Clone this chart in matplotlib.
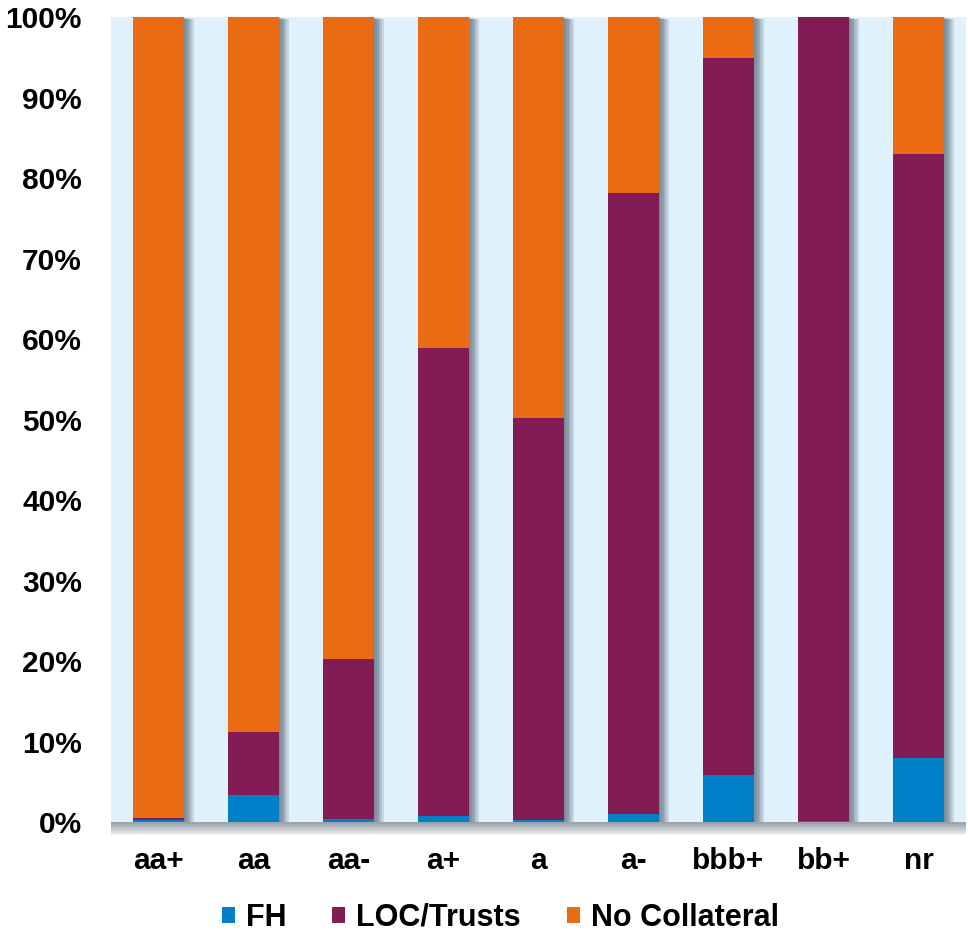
import matplotlib.pyplot as plt
import matplotlib.patheffects as pe
import numpy as np

plt.rcParams["font.family"] = ["Liberation Sans", "DejaVu Sans"]
plt.rcParams["font.weight"] = "bold"

ratings = ["aa+", "aa", "aa-", "a+", "a", "a-", "bbb+", "bb+", "nr"]
fh = np.array([0.2, 3.3, 0.4, 0.7, 0.2, 1.0, 5.9, 0.1, 7.9])
loc_trusts = np.array([0.3, 7.9, 19.8, 58.2, 50.0, 77.1, 89.0, 99.9, 75.1])
no_collateral = 100 - fh - loc_trusts

colors = {"FH": "#0080C6", "LOC/Trusts": "#831B54", "No Collateral": "#EB6B14"}
bg = "#DFF1FD"


def soft_shadow(dx, dy, steps=6, alpha=0.1, color="#4a5a66"):
    # stacked offsets give a shadow that fades away from the patch
    fx = [pe.SimplePatchShadow(offset=(dx * k, dy * k), shadow_rgbFace=color, alpha=alpha)
          for k in range(1, steps + 1)]
    return fx + [pe.Normal()]


fig = plt.figure(figsize=(9.68, 9.34), dpi=100)
ax = fig.add_axes([0.1147, 0.1199, 0.8833, 0.8619])
ax.set_facecolor(bg)
ax.patch.set_path_effects(soft_shadow(0, -1.3, steps=7, alpha=0.1))

x = np.arange(len(ratings))
w = 0.53

# full-height column behind the segments carries the shadow
for xi in x:
    col = ax.bar(xi, 100, w, color=bg, zorder=2)
    col[0].set_path_effects(soft_shadow(1.2, -0.3, steps=6, alpha=0.17))

bottom = np.zeros(len(ratings))
for name, vals in [("FH", fh), ("LOC/Trusts", loc_trusts), ("No Collateral", no_collateral)]:
    ax.bar(x, vals, w, bottom=bottom, color=colors[name], label=name, zorder=3)
    bottom += vals

ax.set_xlim(-0.5, len(ratings) - 0.5)
ax.set_ylim(0, 100)
ax.set_yticks(np.arange(0, 101, 10))
ax.set_yticklabels([f"{v}%" for v in range(0, 101, 10)])
ax.set_xticks(x)
ax.set_xticklabels(ratings)
ax.tick_params(axis="both", length=0, labelsize=21.5)
ax.tick_params(axis="x", pad=18)
ax.tick_params(axis="y", pad=21)
for s in ax.spines.values():
    s.set_visible(False)

fig.legend(loc="center", bbox_to_anchor=(0.517, 16 / 934), ncol=3, frameon=False,
           fontsize=22, handlelength=0.42, handleheight=0.42, handletextpad=0.36,
           columnspacing=1.5)

fig.savefig("out.png", dpi=100)
